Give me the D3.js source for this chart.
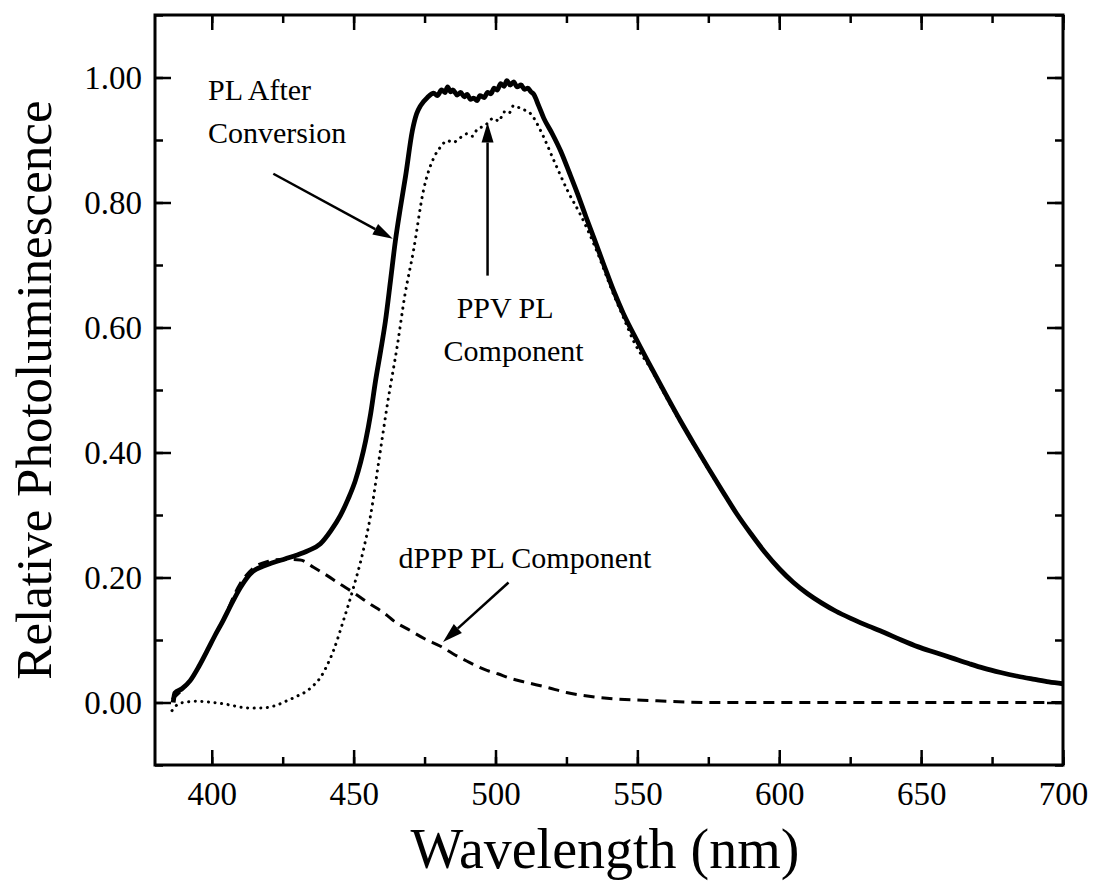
<!DOCTYPE html>
<html>
<head>
<meta charset="utf-8">
<script src="https://cdn.jsdelivr.net/npm/d3@7/dist/d3.min.js"></script>
<style>
  html, body { margin: 0; padding: 0; background: #fff; }
  svg { display: block; }
  text { font-family: "Liberation Serif", "Times New Roman", Times, serif; fill: #000; }
</style>
</head>
<body>
<svg id="chart" width="1095" height="885"></svg>
<script>
// Photoluminescence spectra: [wavelength (nm), relative PL]
const plAfterConversion = [
  [386.4, 0.000], [387.0, 0.015], [389.5, 0.022], [392.4, 0.035], [395.5, 0.058],
  [398.4, 0.083], [401.0, 0.106], [404.0, 0.131], [407.0, 0.158], [410.0, 0.183],
  [412.5, 0.200], [414.6, 0.210], [418.0, 0.218], [421.7, 0.224], [426.0, 0.230],
  [430.1, 0.236], [434.0, 0.243], [438.3, 0.254], [442.0, 0.275], [445.3, 0.299],
  [448.0, 0.325], [450.6, 0.355], [452.5, 0.385], [454.2, 0.418], [456.0, 0.462],
  [457.7, 0.514], [459.5, 0.562], [461.2, 0.610], [463.0, 0.675], [464.7, 0.738],
  [466.5, 0.792], [468.3, 0.842], [470.7, 0.915], [472.2, 0.942], [473.6, 0.955],
  [476.0, 0.968], [478.2, 0.975], [479.5, 0.971], [481.0, 0.980], [482.2, 0.976],
  [483.1, 0.985], [484.2, 0.977], [485.0, 0.980], [486.5, 0.972], [487.7, 0.976],
  [489.0, 0.969], [490.0, 0.973], [491.2, 0.965], [492.3, 0.967], [493.5, 0.963],
  [494.5, 0.971], [496.0, 0.968], [497.2, 0.976], [498.4, 0.974], [499.5, 0.983],
  [500.6, 0.980], [501.8, 0.990], [503.0, 0.986], [504.0, 0.995], [505.2, 0.988],
  [506.4, 0.993], [507.6, 0.985], [509.0, 0.988], [510.2, 0.981], [511.4, 0.983],
  [512.5, 0.977], [513.5, 0.973], [515.2, 0.955], [517.0, 0.935], [520.0, 0.910],
  [523.0, 0.882], [526.0, 0.848], [529.0, 0.813], [531.8, 0.778], [534.7, 0.743],
  [538.2, 0.700], [541.7, 0.658], [545.0, 0.623], [550.0, 0.578], [555.0, 0.535],
  [560.0, 0.493], [565.0, 0.452], [570.0, 0.413], [575.0, 0.375], [580.0, 0.338],
  [585.0, 0.302], [590.0, 0.270], [595.0, 0.240], [600.0, 0.214], [605.0, 0.192],
  [610.0, 0.174], [615.0, 0.159], [620.0, 0.146], [625.0, 0.135], [630.0, 0.125],
  [637.0, 0.112], [643.0, 0.100], [649.0, 0.089], [655.0, 0.080], [661.0, 0.071],
  [667.0, 0.062], [672.0, 0.055], [678.0, 0.048], [684.0, 0.042], [690.0, 0.037],
  [695.0, 0.033], [700.0, 0.030]
];

const ppvComponent = [
  [386.0, -0.013], [388.0, -0.003], [390.0, 0.000], [395.0, 0.002], [400.5, 0.000],
  [404.0, -0.002], [407.5, -0.005], [411.0, -0.008], [414.6, -0.009], [419.5, -0.008],
  [423.0, -0.004], [426.6, 0.003], [430.0, 0.010], [433.7, 0.019], [436.0, 0.028],
  [438.3, 0.040], [440.7, 0.060], [442.9, 0.083], [446.4, 0.131], [449.9, 0.183],
  [453.4, 0.243], [456.0, 0.300], [459.0, 0.390], [462.0, 0.480], [465.5, 0.574],
  [468.0, 0.650], [471.1, 0.723], [474.6, 0.819], [478.2, 0.871], [480.5, 0.888],
  [483.1, 0.899], [485.0, 0.896], [487.7, 0.904], [490.0, 0.910], [491.8, 0.906],
  [493.7, 0.918], [496.0, 0.922], [499.4, 0.935], [501.2, 0.930], [503.0, 0.945],
  [504.6, 0.942], [506.4, 0.955], [509.0, 0.950], [512.4, 0.942], [515.9, 0.915],
  [520.5, 0.868], [525.5, 0.818], [530.0, 0.780], [535.0, 0.730], [541.7, 0.652],
  [545.0, 0.617], [548.8, 0.577], [555.0, 0.532], [560.0, 0.490], [570.0, 0.411],
  [580.0, 0.337], [590.0, 0.270], [600.0, 0.214]
];

const dpppComponent = [
  [386.0, 0.005], [389.5, 0.020], [392.4, 0.035], [398.4, 0.083], [404.0, 0.132],
  [410.0, 0.190], [414.6, 0.215], [420.0, 0.226], [425.0, 0.229], [431.2, 0.228],
  [436.0, 0.216], [440.7, 0.203], [445.0, 0.190], [449.9, 0.176], [455.0, 0.160],
  [461.9, 0.139], [464.0, 0.131], [470.0, 0.115], [475.0, 0.102], [480.6, 0.090],
  [485.0, 0.078], [490.0, 0.066], [497.2, 0.051], [500.8, 0.046], [505.0, 0.039],
  [510.0, 0.033], [518.4, 0.024], [525.0, 0.016], [533.0, 0.010], [541.7, 0.006],
  [555.0, 0.003], [577.0, 0.000], [600.0, 0.000], [650.0, 0.000], [700.0, 0.000]
];

// Axis ticks and labels
const xMajorTicks = [400, 450, 500, 550, 600, 650, 700];
const xMinorTicks = [400, 425, 450, 475, 500, 525, 550, 575, 600, 625, 650, 675, 700];
const yMajorTicks = [0.0, 0.2, 0.4, 0.6, 0.8, 1.0];
const yMinorTicks = [-0.1, 0.0, 0.1, 0.2, 0.3, 0.4, 0.5, 0.6, 0.7, 0.8, 0.9, 1.0, 1.1];
const xTitle = "Wavelength (nm)";
const yTitle = "Relative Photoluminescence";

// Annotations: text lines and arrows in data coordinates
const annotations = [
  { lines: ["PL After", "Conversion"], x: 398.7, y: [0.964, 0.895] },
  { lines: ["PPV PL"], x: 486.3, y: [0.615] },
  { lines: ["Component"], x: 481.7, y: [0.547] },
  { lines: ["dPPP PL Component"], x: 465.8, y: [0.2155] }
];
const arrows = [
  { from: [421.7, 0.846], to: [463.8, 0.742] },
  { from: [497.2, 0.683], to: [497.2, 0.928] },
  { from: [504.6, 0.192], to: [481.5, 0.097] }
];

const margin = { left: 155, right: 1095 - 1063, top: 15, bottom: 885 - 765 };
const W = 1095, H = 885;
const iw = W - margin.left - margin.right;
const ih = H - margin.top - margin.bottom;

const svg = d3.select("#chart");
const g = svg.append("g").attr("transform", `translate(${margin.left},${margin.top})`);

const x = d3.scaleLinear().domain([380, 700]).range([0, iw]);
const y = d3.scaleLinear().domain([-0.1, 1.1]).range([ih, 0]);

g.append("defs").append("clipPath").attr("id", "plot-clip")
  .append("rect").attr("width", iw).attr("height", ih);

// Curves
const line = d3.line()
  .x(d => x(d[0]))
  .y(d => y(d[1]))
  .curve(d3.curveMonotoneX);

const curves = g.append("g").attr("clip-path", "url(#plot-clip)");

curves.append("path")
  .datum(dpppComponent)
  .attr("d", line)
  .attr("fill", "none")
  .attr("stroke", "#000")
  .attr("stroke-width", 3)
  .attr("stroke-dasharray", "11,7");

curves.append("path")
  .datum(ppvComponent)
  .attr("d", line)
  .attr("fill", "none")
  .attr("stroke", "#000")
  .attr("stroke-width", 3)
  .attr("stroke-linecap", "round")
  .attr("stroke-dasharray", "0.1,6.5");

curves.append("path")
  .datum(plAfterConversion)
  .attr("d", line)
  .attr("fill", "none")
  .attr("stroke", "#000")
  .attr("stroke-width", 4.8)
  .attr("stroke-linejoin", "round");

// Axes: ticks point into the plot on all four sides
function styleAxis(sel) {
  sel.select(".domain").remove();
  sel.selectAll(".tick line").attr("stroke", "#000").attr("stroke-width", 2.5);
  sel.selectAll(".tick text").attr("fill", "#000")
    .style("font-family", '"Liberation Serif", "Times New Roman", serif');
}

// bottom
g.append("g").attr("transform", `translate(0,${ih})`)
  .call(d3.axisBottom(x).tickValues(xMinorTicks).tickSize(-8).tickFormat(""))
  .call(styleAxis);
g.append("g").attr("transform", `translate(0,${ih})`)
  .call(d3.axisBottom(x).tickValues(xMajorTicks).tickSize(-15).tickPadding(0).tickFormat(d3.format("d")))
  .call(styleAxis)
  .call(s => s.selectAll(".tick text").attr("y", 40).attr("dy", 0).style("font-size", "33px"));
// top
g.append("g")
  .call(d3.axisTop(x).tickValues(xMinorTicks).tickSize(-8).tickFormat(""))
  .call(styleAxis);
g.append("g")
  .call(d3.axisTop(x).tickValues(xMajorTicks).tickSize(-15).tickFormat(""))
  .call(styleAxis);
// left
g.append("g")
  .call(d3.axisLeft(y).tickValues(yMinorTicks).tickSize(-8).tickFormat(""))
  .call(styleAxis);
g.append("g")
  .call(d3.axisLeft(y).tickValues(yMajorTicks).tickSize(-16).tickFormat(d3.format(".2f")))
  .call(styleAxis)
  .call(s => s.selectAll(".tick text").attr("x", -13).attr("dy", "0.34em").style("font-size", "33px"));
// right
g.append("g").attr("transform", `translate(${iw},0)`)
  .call(d3.axisRight(y).tickValues(yMinorTicks).tickSize(-8).tickFormat(""))
  .call(styleAxis);
g.append("g").attr("transform", `translate(${iw},0)`)
  .call(d3.axisRight(y).tickValues(yMajorTicks).tickSize(-16).tickFormat(""))
  .call(styleAxis);

// Frame
g.append("rect")
  .attr("width", iw).attr("height", ih)
  .attr("fill", "none").attr("stroke", "#000").attr("stroke-width", 3);

// Axis titles
svg.append("text")
  .attr("x", 605)
  .attr("y", 868)
  .attr("text-anchor", "middle")
  .style("font-size", "56px")
  .text(xTitle);

svg.append("text")
  .attr("transform", `translate(51,${margin.top + ih / 2}) rotate(-90)`)
  .attr("text-anchor", "middle")
  .style("font-size", "51px")
  .text(yTitle);

// Annotation text
annotations.forEach(a => {
  a.lines.forEach((t, i) => {
    g.append("text")
      .attr("x", x(a.x))
      .attr("y", y(a.y[i]))
      .attr("text-anchor", "start")
      .style("font-size", "30px")
      .text(t);
  });
});

// Arrows with filled heads
arrows.forEach(a => {
  const x0 = x(a.from[0]), y0 = y(a.from[1]);
  const x1 = x(a.to[0]), y1 = y(a.to[1]);
  const ang = Math.atan2(y1 - y0, x1 - x0);
  const headLen = 20, headHalf = 6;
  const bx = x1 - headLen * Math.cos(ang), by = y1 - headLen * Math.sin(ang);
  g.append("line")
    .attr("x1", x0).attr("y1", y0).attr("x2", bx).attr("y2", by)
    .attr("stroke", "#000").attr("stroke-width", 2.5);
  const px = -Math.sin(ang) * headHalf, py = Math.cos(ang) * headHalf;
  g.append("path")
    .attr("d", `M${x1},${y1}L${bx + px},${by + py}L${bx - px},${by - py}Z`)
    .attr("fill", "#000");
});
</script>
</body>
</html>
